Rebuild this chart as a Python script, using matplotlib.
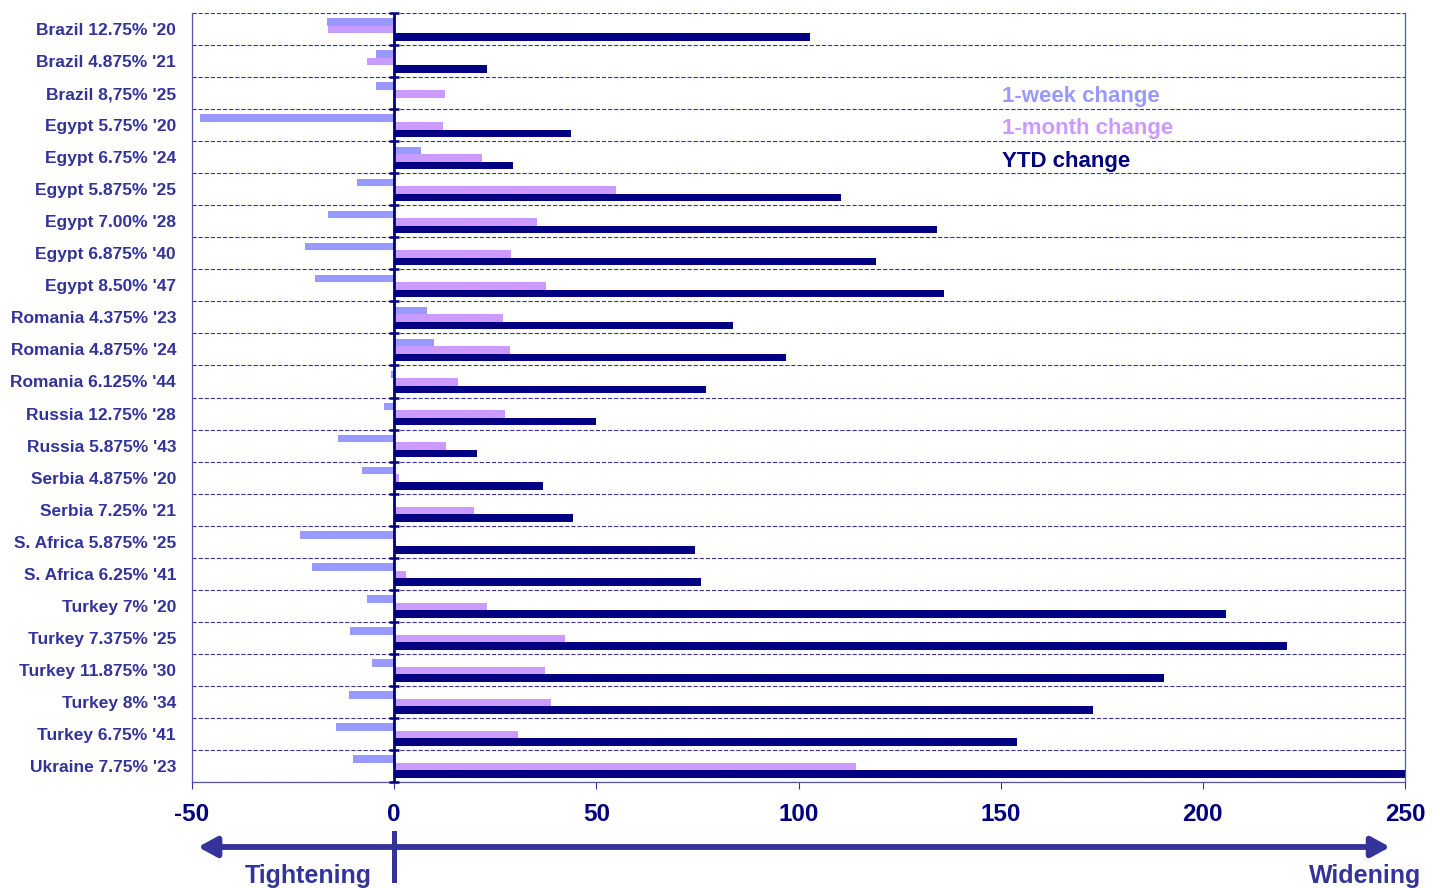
import numpy as np
import matplotlib
matplotlib.use("Agg")
import matplotlib.pyplot as plt
from matplotlib.patches import FancyArrowPatch

plt.rcParams['font.family'] = ['Liberation Sans', 'DejaVu Sans']
plt.rcParams['font.weight'] = 'bold'
plt.rcParams['lines.scale_dashes'] = False

bonds = ["Brazil 12.75% '20", "Brazil 4.875% '21", "Brazil 8,75% '25",
         "Egypt 5.75% '20", "Egypt 6.75% '24", "Egypt 5.875% '25",
         "Egypt 7.00% '28", "Egypt 6.875% '40", "Egypt 8.50% '47",
         "Romania 4.375% '23", "Romania 4.875% '24", "Romania 6.125% '44",
         "Russia 12.75% '28", "Russia 5.875% '43", "Serbia 4.875% '20",
         "Serbia 7.25% '21", "S. Africa 5.875% '25", "S. Africa 6.25% '41",
         "Turkey 7% '20", "Turkey 7.375% '25", "Turkey 11.875% '30",
         "Turkey 8% '34", "Turkey 6.75% '41", "Ukraine 7.75% '23"]

week_change = [-16.5, -4.5, -4.5, -47.9, 6.6, -9.3, -16.3, -22.1, -19.7, 8.0,
               9.9, -0.8, -2.4, -13.8, -8.0, 0.0, -23.4, -20.4, -6.6, -11.0,
               -5.4, -11.1, -14.5, -10.3]
month_change = [-16.3, -6.6, 12.6, 12.2, 21.6, 54.8, 35.4, 29.0, 37.6, 26.9,
                28.6, 15.9, 27.5, 12.7, 1.2, 19.7, 0.5, 3.0, 23.0, 42.2,
                37.4, 38.9, 30.7, 114.1]
ytd_change = [102.8, 23.0, 0.0, 43.8, 29.3, 110.6, 134.3, 119.2, 135.9, 83.9,
              96.8, 77.0, 49.8, 20.4, 36.7, 44.2, 74.4, 75.9, 205.7, 220.7,
              190.4, 172.9, 154.0, 250.0]

series_names = ["1-week change", "1-month change", "YTD change"]
series_colors = ["#9999FF", "#CC99FF", "#000080"]
x_ticks = [-50, 0, 50, 100, 150, 200, 250]

label_color = "#333399"
navy = "#000080"

fig = plt.figure(figsize=(14.4, 8.88), dpi=100)
ax = fig.add_axes([192 / 1440, 1 - 782 / 888, (1405 - 192) / 1440, (782 - 13) / 888])

n = len(bonds)
y = np.arange(n)
bar_h = 0.235
offset = 0.02
for k, (vals, col) in enumerate(zip([week_change, month_change, ytd_change], series_colors)):
    ax.barh(y + offset + (k - 1) * bar_h, vals, height=bar_h, color=col,
            edgecolor='none', zorder=3)

ax.set_xlim(-50, 250)
ax.set_ylim(n - 0.5, -0.5)

# category separators as dashed grid lines
ax.set_yticks(np.arange(n + 1) - 0.5, minor=True)
ax.grid(which='minor', axis='y', color=label_color, linestyle=(0, (3.0, 1.4)),
        linewidth=0.8, zorder=1)
ax.grid(which='major', axis='both', visible=False)

ax.set_yticks(y)
ax.set_yticklabels(bonds, fontsize=12.5, color=label_color, fontweight='bold')
ax.tick_params(axis='y', which='both', left=False, pad=8)

ax.set_xticks(x_ticks)
ax.set_xticklabels([str(t) for t in x_ticks], fontsize=17.5, color=navy, fontweight='bold')
ax.tick_params(axis='x', direction='out', length=5, width=0.8, color=label_color, pad=10)

for side in ['left', 'right', 'bottom']:
    ax.spines[side].set_color('#5555AA')
    ax.spines[side].set_linewidth(0.9)
ax.spines['top'].set_visible(False)

# value axis crossing at zero
ax.axvline(0, color=navy, linewidth=2.0, zorder=4)
ax.plot(np.zeros(n + 1), np.arange(n + 1) - 0.5, linestyle='none', marker='_',
        markersize=7.5, markeredgewidth=1.8, color=navy, zorder=4, clip_on=False)

# series names inside the plot area
for k, (name, col) in enumerate(zip(series_names, series_colors)):
    ax.text(150.3, 2.12 + k, name, color=col, fontsize=16, fontweight='bold',
            ha='left', va='center', zorder=5)

# direction arrow below the axis
arrow_y = 1 - 847 / 888
x0 = ax.transData.transform((-48.5, 0))[0] / fig.bbox.width
x1 = ax.transData.transform((246.3, 0))[0] / fig.bbox.width
arr = FancyArrowPatch((x0, arrow_y), (x1, arrow_y), transform=fig.transFigure,
                      arrowstyle='<|-|>,head_length=11,head_width=6',
                      color=label_color, linewidth=4.2, mutation_scale=1,
                      shrinkA=0, shrinkB=0)
fig.patches.append(arr)
xz = ax.transData.transform((0, 0))[0] / fig.bbox.width
fig.add_artist(plt.Line2D([xz, xz], [1 - 833 / 888, 1 - 880 / 888],
                          transform=fig.transFigure, color=label_color, linewidth=3.6))

fig.text(308.5 / 1440, 1 - 883 / 888, "Tightening", ha='center', va='baseline',
         fontsize=18, fontweight='bold', color=label_color)
fig.text(1365 / 1440, 1 - 883 / 888, "Widening", ha='center', va='baseline',
         fontsize=18, fontweight='bold', color=label_color)

fig.savefig("out.png", dpi=100, facecolor='white')
